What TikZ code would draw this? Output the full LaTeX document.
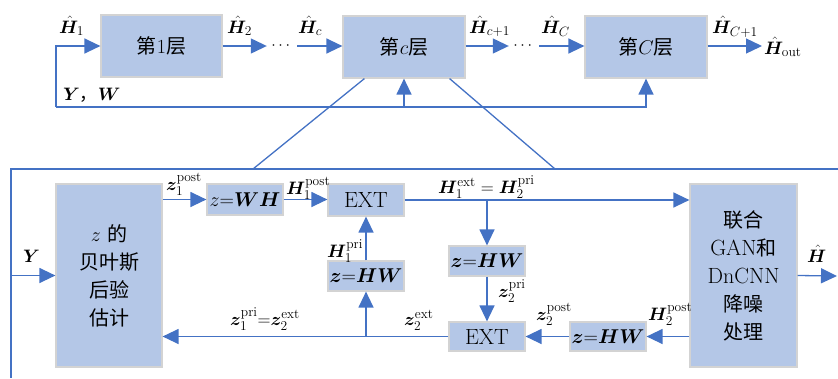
\documentclass[tikz,border=0pt]{standalone}
\usepackage{fix-cm}
\usepackage{amsmath,bm}
\usepackage{fontspec}
\newfontfamily\cjk{Noto Sans CJK SC}
\DeclareMathSizes{18}{18}{13.5}{10}
\usetikzlibrary{arrows.meta}
\definecolor{lineblue}{HTML}{4472C4}
\definecolor{boxfill}{HTML}{B4C7E7}
\definecolor{boxgray}{HTML}{D3D3D3}
\tikzset{
  box/.style={draw=boxgray, fill=boxfill, line width=1.2pt, inner sep=0pt,
    font=\fontsize{20}{28}\selectfont, align=center},
  conn/.style={draw=lineblue, line width=1.3pt},
  arr/.style={conn, -{Triangle[length=16pt,width=15pt]}},
  lab/.style={font=\fontsize{18}{20}\selectfont, inner sep=0pt, anchor=base west},
  dots/.style={font=\fontsize{16}{18}\selectfont, inner sep=0pt, minimum width=30pt}
}
\newcommand{\lt}[1]{{\fontsize{22}{28}\selectfont #1}}
\begin{document}
\begin{tikzpicture}[x=1pt,y=-1pt]
\useasboundingbox (0,0) rectangle (838,378);
% top row
\node[box, minimum width=121pt, minimum height=62pt] (L1) at (161.5,46) {{\cjk 第}1{\cjk 层}};
\node[box, minimum width=122pt, minimum height=62pt] (Lc) at (404,47) {{\cjk 第}$c${\cjk 层}};
\node[box, minimum width=122pt, minimum height=62pt] (LC) at (646,47) {{\cjk 第}$C${\cjk 层}};
\node[dots] (d1) at (282,46) {$\cdots$};
\node[dots] (d2) at (524,46) {$\cdots$};
\coordinate (hout) at (762,46);
\draw[arr] (L1.east) -- (L1.east -| d1.west);
\draw[arr] (d1.east) -- (d1.east -| Lc.west);
\draw[arr] (Lc.east |- d2.west) -- (d2.west);
\draw[arr] (d2.east) -- (d2.east -| LC.west);
\draw[arr] (LC.east |- hout) -- (hout);
\coordinate (fbL) at (56,107);
\coordinate (fbR) at (646,107);
\draw[arr] (fbL) |- (L1.west);
\draw[arr] (fbL) -- (fbR) -- (LC.south);
\draw[arr] (Lc.south |- fbL) -- (Lc.south);
\node[lab] (t1) at (59,33) {$\hat{\boldsymbol{H}}_1$};
\node[lab] (t2) at (227,33) {$\hat{\boldsymbol{H}}_2$};
\node[lab] (t3) at (298,33) {$\hat{\boldsymbol{H}}_c$};
\node[lab] (t4) at (469,33) {$\hat{\boldsymbol{H}}_{c+1}$};
\node[lab] (t5) at (541,33) {$\hat{\boldsymbol{H}}_C$};
\node[lab] (t6) at (712,33) {$\hat{\boldsymbol{H}}_{C+1}$};
\node[lab] (t7) at (764,54) {$\hat{\boldsymbol{H}}_{\mathrm{out}}$};
\node[lab] (t8) at (63,100) {$\boldsymbol{Y}${\cjk ，}$\boldsymbol{W}$};
% zoom lines and frame
\coordinate (zl) at (253,169);
\coordinate (zr) at (555,169);
\draw[conn] ([xshift=22pt]Lc.south west) -- (zl);
\draw[conn] ([xshift=-16pt]Lc.south east) -- (zr);
\coordinate (fTR) at (838,169);
\coordinate (fTL) at (11,169);
\coordinate (fBL) at (11,378);
\draw[conn] (fTR) -- (fTL) -- (fBL);
% inner boxes
\node[box, minimum width=106pt, minimum height=183pt] (B) at (109,275.5)
  {$z$ {\cjk 的}\\{\cjk 贝叶斯}\\{\cjk 后验}\\{\cjk 估计}};
\node[box, minimum width=76pt, minimum height=31pt] (WH) at (245,199.5) {$z{=}\boldsymbol{WH}$};
\node[box, minimum width=76pt, minimum height=32pt] (E1) at (366,200) {\lt{EXT}};
\node[box, minimum width=76pt, minimum height=30pt] (HWL) at (366,276) {$\boldsymbol{z}{=}\boldsymbol{HW}$};
\node[box, minimum width=76pt, minimum height=30pt] (M) at (487,261) {$\boldsymbol{z}{=}\boldsymbol{HW}$};
\node[box, minimum width=76pt, minimum height=29pt] (E2) at (487,336.5) {\lt{EXT}};
\node[box, minimum width=76pt, minimum height=29pt] (R) at (608,336.5) {$\boldsymbol{z}{=}\boldsymbol{HW}$};
\node[box, minimum width=107pt, minimum height=183pt] (G) at (743.5,275.5)
  {{\cjk 联合}\\\lt{GAN}{\cjk 和}\\\lt{DnCNN}\\{\cjk 降噪}\\{\cjk 处理}};
\coordinate (out) at (837,276);
% connectors
\draw[arr] (fTL |- B.west) -- (B.west);
\draw[arr] (WH.west -| B.east) -- (WH.west);
\draw[arr] (WH.east) -- (WH.east -| E1.west);
\draw[arr] (E1.east) -- (E1.east -| G.west);
\draw[arr] (E1.east -| M.north) -- (M.north);
\draw[arr] (M.south) -- (E2.north);
\draw[arr] (G.west |- R.east) -- (R.east);
\draw[arr] (R.west) -- (E2.east);
\draw[arr] (E2.west) -- (E2.west -| B.east);
\draw[arr] (E2.west -| HWL.south) -- (HWL.south);
\draw[arr] (HWL.north) -- (E1.south);
\draw[arr] (G.east) -- (out);
% labels
\node[lab] (y1) at (23,262) {$\boldsymbol{Y}$};
\node[lab] (l1) at (166,190) {$\boldsymbol{z}_1^{\mathrm{post}}$};
\node[lab] (l2) at (286,194) {$\boldsymbol{H}_1^{\mathrm{post}}$};
\node[lab] (l3) at (327,257) {$\boldsymbol{H}_1^{\mathrm{pri}}$};
\node[lab] (l4) at (230,325) {$\boldsymbol{z}_1^{\mathrm{pri}}{=}\boldsymbol{z}_2^{\mathrm{ext}}$};
\node[lab] (l5) at (404,325) {$\boldsymbol{z}_2^{\mathrm{ext}}$};
\node[lab] (l6) at (438,193) {$\boldsymbol{H}_1^{\mathrm{ext}}=\boldsymbol{H}_2^{\mathrm{pri}}$};
\node[lab] (l7) at (498,297) {$\boldsymbol{z}_2^{\mathrm{pri}}$};
\node[lab] (l8) at (536,320) {$\boldsymbol{z}_2^{\mathrm{post}}$};
\node[lab] (l9) at (648,320) {$\boldsymbol{H}_2^{\mathrm{post}}$};
\node[lab] (l10) at (807,262) {$\hat{\boldsymbol{H}}$};
\end{tikzpicture}
\end{document}
